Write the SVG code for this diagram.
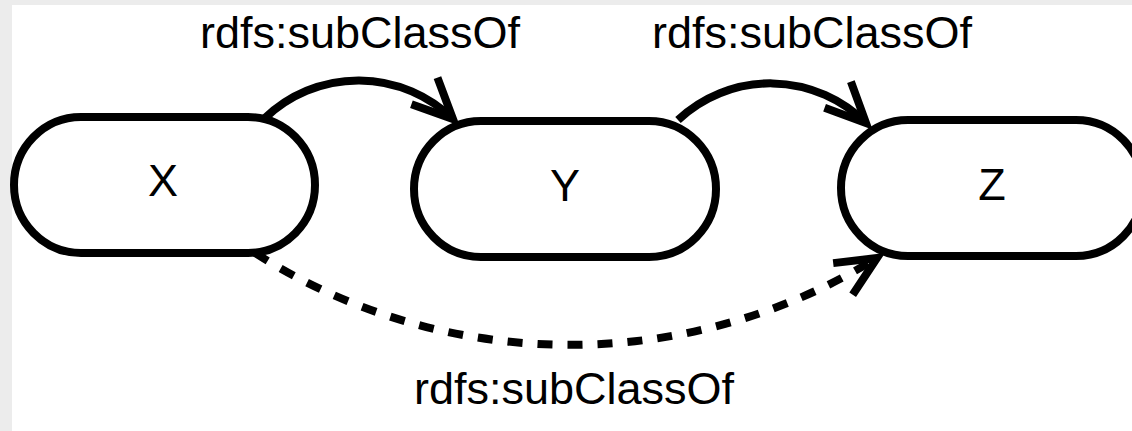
<svg xmlns="http://www.w3.org/2000/svg" width="1132" height="431" viewBox="0 0 1132 431">
  <style>
    .node rect { fill: #ffffff; stroke: #000000; stroke-width: 8; }
    .node text, .label { font-family: "Liberation Sans", Arial, sans-serif; font-size: 45px; fill: #000000; text-anchor: middle; }
    .edge { fill: none; stroke: #000000; stroke-width: 8; }
    .edge.inferred { stroke-dasharray: 15 15; }
  </style>
  <defs>
    <!-- open V arrowhead, drawn in user units so it keeps the line weight -->
    <marker id="arrow" markerUnits="userSpaceOnUse" orient="auto" refX="0" refY="0"
            markerWidth="60" markerHeight="60" viewBox="-50 -30 60 60" overflow="visible">
      <path d="M-40,-18.6 L0,0 L-40,18.6" fill="none" stroke="#000000" stroke-width="8" stroke-linejoin="miter"/>
    </marker>
  </defs>

  <!-- page -->
  <rect x="0" y="0" width="1132" height="431" fill="#ffffff"/>
  <rect x="0" y="0" width="1132" height="5" fill="#ececec"/>
  <rect x="0" y="0" width="12" height="431" fill="#ececec"/>

  <!-- class nodes -->
  <g id="node-x" class="node">
    <rect x="14" y="117" width="301" height="136" rx="67" ry="68"/>
    <text x="163" y="196">X</text>
  </g>
  <g id="node-y" class="node">
    <rect x="414" y="121" width="302" height="136" rx="67" ry="68"/>
    <text x="565" y="201">Y</text>
  </g>
  <g id="node-z" class="node">
    <rect x="841" y="120" width="302" height="136" rx="67" ry="68"/>
    <text x="992" y="200">Z</text>
  </g>

  <!-- subclass relations -->
  <g id="connectors">
    <path class="edge" d="M265,118 A135,135 0 0 1 453,119" marker-end="url(#arrow)"/>
    <path class="edge" d="M678,120 A135,135 0 0 1 866,123" marker-end="url(#arrow)"/>
    <path class="edge inferred" d="M255,253 A586,586 0 0 0 877,258" marker-end="url(#arrow)"/>
    <text class="label" x="360" y="48">rdfs:subClassOf</text>
    <text class="label" x="812" y="48">rdfs:subClassOf</text>
    <text class="label" x="574" y="404">rdfs:subClassOf</text>
  </g>
</svg>
